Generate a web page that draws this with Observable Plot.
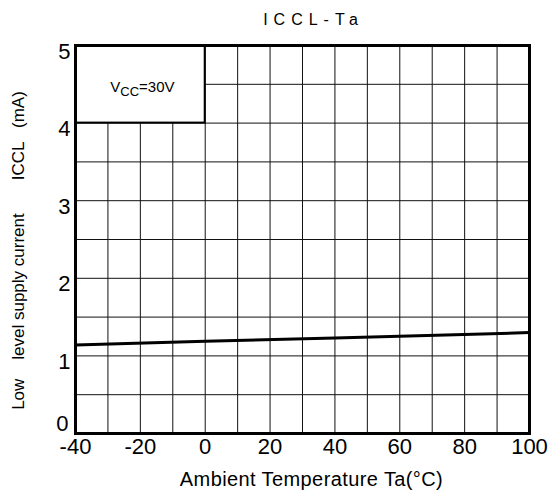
<!DOCTYPE html>
<html>
<head>
<meta charset="utf-8">
<script src="https://cdn.jsdelivr.net/npm/d3@7"></script>
<script src="https://cdn.jsdelivr.net/npm/@observablehq/plot@0.6"></script>
<style>
  html, body { margin: 0; padding: 0; background: #fff; }
  svg { font-family: "Liberation Sans", Arial, sans-serif; }
</style>
</head>
<body>
<div id="chart"></div>
<script>
const temps = [-40, 0, 40, 100];
const iccl = [1.14, 1.19, 1.23, 1.30];
const xTicks = [-40, -20, 0, 20, 40, 60, 80, 100];
const yTicks = [1, 2, 3, 4, 5];
const yZero = [0];
const xGrid = [-30, -20, -10, 0, 10, 20, 30, 40, 50, 60, 70, 80, 90];
const yGrid = [0.5, 1, 1.5, 2, 2.5, 3, 3.5, 4, 4.5];
const title = "ICCL-Ta";
const xLabel = "Ambient Temperature Ta(°C)";
const yLabel = "Low    level supply current       ICCL   (mA)";
const noteBox = [{x1: -40, x2: 0, y1: 4, y2: 5}];

const data = temps.map((t, i) => ({t, v: iccl[i]}));

const chart = Plot.plot({
  width: 553,
  height: 497,
  marginLeft: 75,
  marginRight: 24,
  marginTop: 45,
  marginBottom: 64,
  x: {domain: [-40, 100], axis: null},
  y: {domain: [0, 5], axis: null},
  marks: [
    Plot.ruleX(xGrid, {x: d => d, stroke: "#111", strokeWidth: 1}),
    Plot.ruleY(yGrid, {y: d => d, stroke: "#111", strokeWidth: 1}),
    Plot.rect(noteBox, {x1: "x1", x2: "x2", y1: "y1", y2: "y2", fill: "white", stroke: "black", strokeWidth: 2}),
    Plot.line(data, {x: "t", y: "v", stroke: "black", strokeWidth: 3}),
    Plot.frame({stroke: "black", strokeWidth: 3}),
    Plot.text(xTicks, {x: d => d, frameAnchor: "bottom", lineAnchor: "middle", dy: 13, fontSize: 22, fill: "black"}),
    Plot.text(yTicks, {y: d => d, frameAnchor: "left", textAnchor: "end", lineAnchor: "middle", dx: -5, dy: 6, fontSize: 22, fill: "black"}),
    Plot.text(yZero, {y: d => d, frameAnchor: "left", textAnchor: "end", lineAnchor: "bottom", dx: -7, dy: -3, fontSize: 22, fill: "black"}),
    Plot.text([xLabel], {frameAnchor: "bottom", lineAnchor: "middle", dx: 9, dy: 46, fontSize: 20, fill: "black", className: "xlabel"}),
    Plot.text([yLabel], {frameAnchor: "left", textAnchor: "middle", lineAnchor: "middle", dx: -57, dy: 11, rotate: -90, fontSize: 17, fill: "black", className: "ylabel"}),
    Plot.text([title], {frameAnchor: "top", dx: 11, dy: -32, fontSize: 16, fill: "black", className: "ttl"}),
    Plot.text(["VCC=30V"], {x: -20, y: 4.5, dx: 2, dy: 3, fontSize: 15, fill: "black", className: "vcc"})
  ]
});

document.getElementById("chart").appendChild(chart);

d3.select(chart).selectAll("g.ylabel text").style("white-space", "pre");
d3.select(chart).selectAll("g.ttl text").style("letter-spacing", "6px");
d3.select(chart).selectAll("g.xlabel text").style("letter-spacing", "0.4px");
d3.select(chart).selectAll("g.vcc text").each(function() {
  const t = d3.select(this);
  t.text(null);
  t.append("tspan").text("V");
  t.append("tspan").attr("font-size", 13).attr("dy", "0.3em").text("CC");
  t.append("tspan").attr("dy", "-0.3em").text("=30V");
});
</script>
</body>
</html>
